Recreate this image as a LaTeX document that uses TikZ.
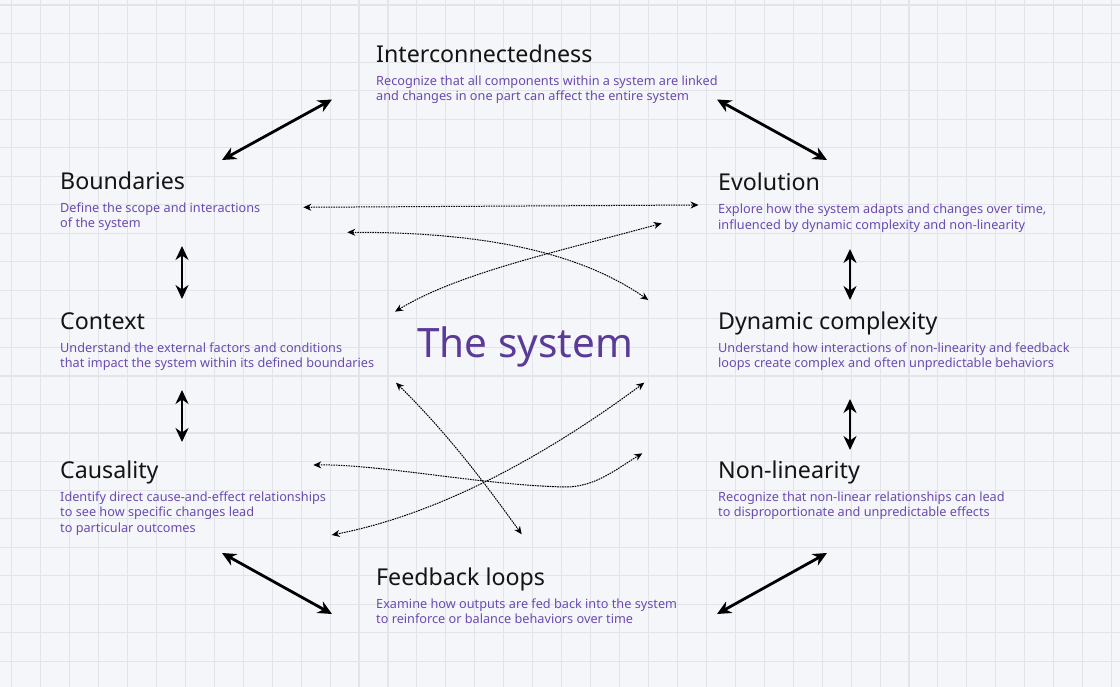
\documentclass[tikz,border=0pt]{standalone}
\usepackage{fontspec}
\setmainfont{Noto Sans}
\usetikzlibrary{arrows.meta}
\definecolor{bgc}{HTML}{F5F6F9}
\definecolor{gridc}{HTML}{E3E4E9}
\definecolor{descc}{HTML}{6A4BB2}
\definecolor{sysc}{HTML}{5A3B98}
\definecolor{titlec}{HTML}{141414}
\begin{document}
\begin{tikzpicture}[x=1pt,y=-1pt,
  ttl/.style={anchor=base west, inner sep=0pt, font=\fontsize{23.2}{27}\selectfont, text=titlec},
  dsc/.style={anchor=base west, inner sep=0pt, font=\fontsize{12.7}{15.5}\selectfont, text=descc},
  bigarrow/.style={line width=2.8pt, {Stealth[length=14pt,width=13pt]}-{Stealth[length=14pt,width=13pt]}},
  dotarrow/.style={line width=1pt, dash pattern=on 1.6pt off 0.9pt, {Stealth[length=8pt,width=7pt]}-{Stealth[length=8pt,width=7pt]}},
  gridline/.style={gridc, line width=1.1pt}
]
\fill[bgc] (0,0) rectangle (1120,687);
\useasboundingbox (0,0) rectangle (1120,687);
\foreach \i in {0,...,38} \draw[gridline] ({11.7+28.945*\i},0) -- ({11.7+28.945*\i},687);
\foreach \j in {0,...,24} \draw[gridline] (0,{5+28.535*\j}) -- (1120,{5+28.535*\j});

% titles and descriptions
\node[ttl] (intT) at (376,62.3) {Interconnectedness};
\node[dsc] (intD) at (376,85.5) {\begin{tabular}[t]{@{}l@{}}Recognize that all components within a system are linked\\and changes in one part can affect the entire system\end{tabular}};
\node[ttl] (bouT) at (60,189.3) {Boundaries};
\node[dsc] (bouD) at (60,212.3) {\begin{tabular}[t]{@{}l@{}}Define the scope and interactions\\of the system\end{tabular}};
\node[ttl] (conT) at (60,329.3) {Context};
\node[dsc] (conD) at (60,352.3) {\begin{tabular}[t]{@{}l@{}}Understand the external factors and conditions\\that impact the system within its defined boundaries\end{tabular}};
\node[ttl] (cauT) at (60,478) {Causality};
\node[dsc] (cauD) at (60,501) {\begin{tabular}[t]{@{}l@{}}Identify direct cause-and-effect relationships\\to see how specific changes lead\\to particular outcomes\end{tabular}};
\node[ttl] (evoT) at (718,191) {Evolution};
\node[dsc] (evoD) at (718,214) {\begin{tabular}[t]{@{}l@{}}Explore how the system adapts and changes over time,\\influenced by dynamic complexity and non-linearity\end{tabular}};
\node[ttl] (dynT) at (718,329.3) {Dynamic complexity};
\node[dsc] (dynD) at (718,352.3) {\begin{tabular}[t]{@{}l@{}}Understand how interactions of non-linearity and feedback\\loops create complex and often unpredictable behaviors\end{tabular}};
\node[ttl] (nonT) at (718,478) {Non-linearity};
\node[dsc] (nonD) at (718,501) {\begin{tabular}[t]{@{}l@{}}Recognize that non-linear relationships can lead\\to disproportionate and unpredictable effects\end{tabular}};
\node[ttl] (feeT) at (376,585.3) {Feedback loops};
\node[dsc] (feeD) at (376,608.3) {\begin{tabular}[t]{@{}l@{}}Examine how outputs are fed back into the system\\to reinforce or balance behaviors over time\end{tabular}};
\node[anchor=base west, inner sep=0pt, font=\fontsize{40.5}{48}\selectfont, text=sysc] (sys) at (417,357.3) {The system};

% connector end points
\coordinate (a1s) at (222,160); \coordinate (a1e) at (332,99.5);
\coordinate (a2s) at (717,99.5); \coordinate (a2e) at (827,160);
\coordinate (a3s) at (182,246); \coordinate (a3e) at (182,299);
\coordinate (a4s) at (850,249); \coordinate (a4e) at (850,300);
\coordinate (a5s) at (182,390); \coordinate (a5e) at (182,442);
\coordinate (a6s) at (850,399); \coordinate (a6e) at (850,450);
\coordinate (a7s) at (222,553); \coordinate (a7e) at (332,614);
\coordinate (a8s) at (717,614); \coordinate (a8e) at (827,553);

\draw[bigarrow] (a1s) -- (a1e);
\draw[bigarrow] (a2s) -- (a2e);
\draw[bigarrow] (a3s) -- (a3e);
\draw[bigarrow] (a4s) -- (a4e);
\draw[bigarrow] (a5s) -- (a5e);
\draw[bigarrow] (a6s) -- (a6e);
\draw[bigarrow] (a7s) -- (a7e);
\draw[bigarrow] (a8s) -- (a8e);

\coordinate (d1s) at (303.3,207.3); \coordinate (d1e) at (698.5,205);
\coordinate (d2s) at (347.3,232.3); \coordinate (d2e) at (648.3,300);
\coordinate (d3s) at (395,311.7); \coordinate (d3e) at (661.7,223.3);
\coordinate (d4s) at (396,382.7); \coordinate (d4e) at (521.7,534.3);
\coordinate (d5s) at (313.3,465); \coordinate (d5m) at (565,487); \coordinate (d5e) at (642.3,453.3);
\coordinate (d6s) at (331.7,535); \coordinate (d6e) at (644.3,382.7);

\draw[dotarrow] (d1s) -- (d1e);
\draw[dotarrow] (d2s) .. controls (495,232) and (585,256) .. (d2e);
\draw[dotarrow] (d3s) .. controls (460,272) and (565,250) .. (d3e);
\draw[dotarrow] (d4s) .. controls (446,432) and (482,479) .. (d4e);
\draw[dotarrow] (d5s) .. controls (380,464) and (480,485) .. (d5m) .. controls (595,487) and (615,470) .. (d5e);
\draw[dotarrow] (d6s) .. controls (450,512) and (560,445) .. (d6e);
\end{tikzpicture}
\end{document}
